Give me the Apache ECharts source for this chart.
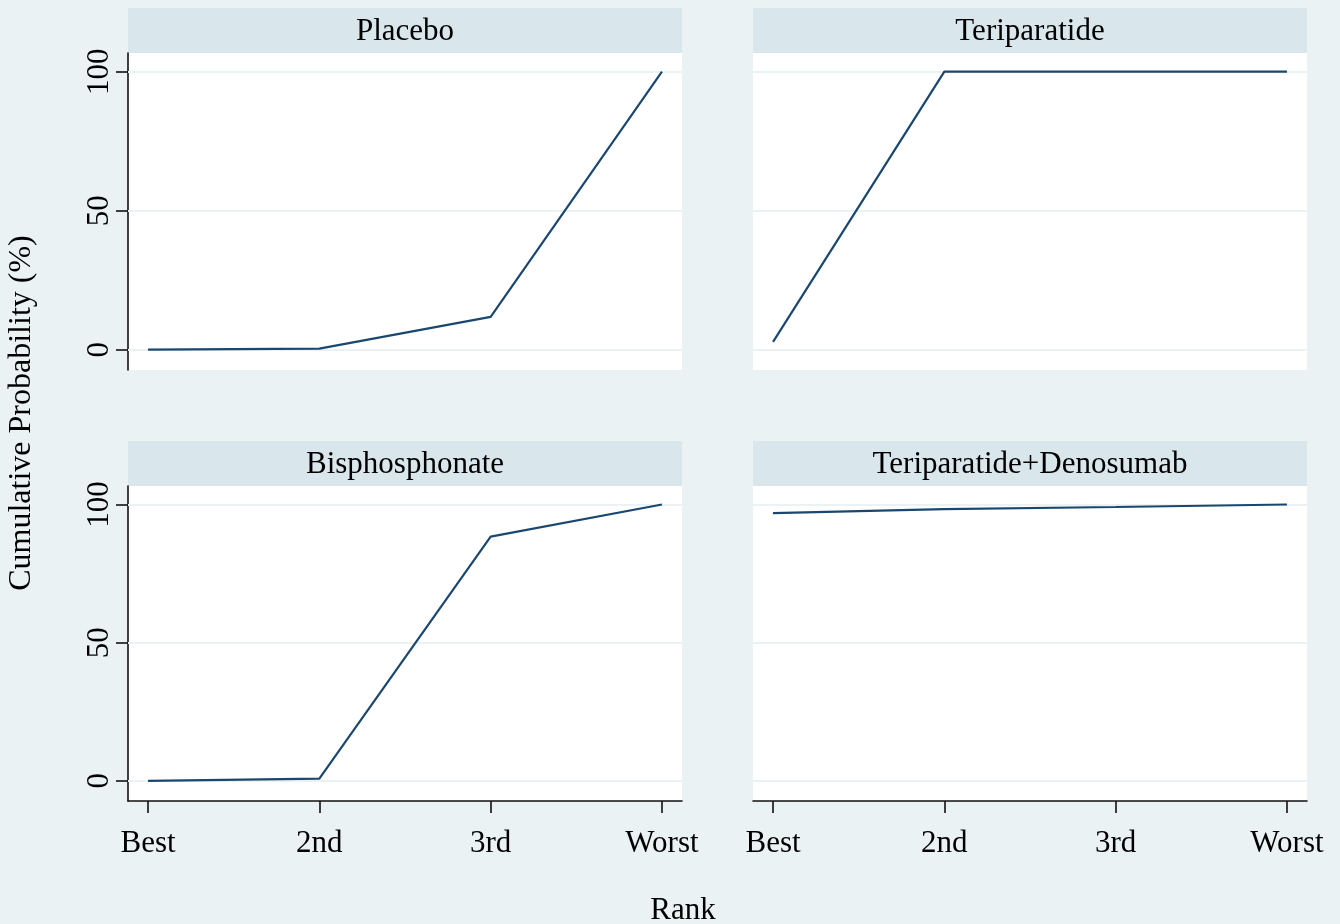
<!DOCTYPE html>
<html>
<head>
<meta charset="utf-8">
<script src="https://cdn.jsdelivr.net/npm/echarts@6/dist/echarts.min.js"></script>
<style>
  html, body { margin: 0; padding: 0; background: #eaf2f3; }
  #chart { width: 1340px; height: 924px; }
</style>
</head>
<body>
<div id="chart"></div>
<script>
// Rank categories along the x axis
const rankLabels = ['Best', '2nd', '3rd', 'Worst'];
const rankPositions = [1, 2, 3, 4];
// Y axis ticks (cumulative probability, %)
const yTicks = [0, 50, 100];
// Panel titles
const panelTitles = ['Placebo', 'Teriparatide', 'Bisphosphonate', 'Teriparatide+Denosumab'];
// Cumulative ranking probabilities per treatment
const placebo = [0, 0.4, 11.8, 100];
const teriparatide = [2.8, 100, 100, 100];
const bisphosphonate = [0, 0.8, 88.4, 100];
const teriDenosumab = [96.9, 98.3, 99.1, 100];

const seriesValues = [placebo, teriparatide, bisphosphonate, teriDenosumab];

const FONT = '"Liberation Serif", "Times New Roman", serif';
const FONT_SIZE = 31;
const LINE_COLOR = '#1a476f';
const GRID_COLOR = '#eaf2f3';
const HEADER_COLOR = '#d9e6eb';
const AXIS_COLOR = '#111111';
const PANEL_W = 554;
const HEADER_H = 45;
const panels = [
  { left: 128, top: 53, height: 317, showX: false, showY: true },
  { left: 753, top: 53, height: 317, showX: false, showY: false },
  { left: 128, top: 486, height: 315, showX: true, showY: true },
  { left: 753, top: 486, height: 315, showX: true, showY: false }
];

const grids = [], xAxes = [], yAxes = [], series = [], graphics = [];

panels.forEach((p, i) => {
  grids.push({
    left: p.left, top: p.top, width: PANEL_W, height: p.height,
    show: true, backgroundColor: '#ffffff', borderWidth: 0
  });
  xAxes.push({
    type: 'value', gridIndex: i, min: 0.883, max: 4.117,
    axisLine: { show: p.showX, onZero: false, lineStyle: { color: AXIS_COLOR, width: 1.6 } },
    axisTick: { show: p.showX, length: 12, customValues: rankPositions, lineStyle: { color: AXIS_COLOR, width: 1.6 } },
    axisLabel: {
      show: p.showX, customValues: rankPositions, margin: 27,
      formatter: v => rankLabels[rankPositions.indexOf(Math.round(v))] || '',
      fontFamily: FONT, fontSize: FONT_SIZE, color: '#000'
    },
    splitLine: { show: false }
  });
  yAxes.push({
    type: 'value', gridIndex: i, min: -7.3, max: 106.7,
    axisLine: { show: p.showY, onZero: false, lineStyle: { color: AXIS_COLOR, width: 1.6 } },
    axisTick: { show: p.showY, length: 12, customValues: yTicks, lineStyle: { color: AXIS_COLOR, width: 1.6 } },
    axisLabel: {
      show: p.showY, customValues: yTicks, rotate: 90, margin: 13,
      fontFamily: FONT, fontSize: FONT_SIZE, color: '#000'
    },
    splitLine: { show: false }
  });
  series.push({
    type: 'line', xAxisIndex: i, yAxisIndex: i,
    data: rankPositions.map((x, k) => [x, seriesValues[i][k]]),
    showSymbol: false, symbol: 'none',
    lineStyle: { color: LINE_COLOR, width: 2.2 },
    silent: true, z: 3,
    markLine: {
      silent: true, symbol: 'none', label: { show: false },
      lineStyle: { color: GRID_COLOR, width: 2, type: 'solid' },
      data: yTicks.map(v => ({ yAxis: v })),
      z: 1
    }
  });
  // Panel header strip with title
  graphics.push({
    type: 'group', left: p.left, top: p.top - HEADER_H,
    children: [
      { type: 'rect', shape: { x: 0, y: 0, width: PANEL_W, height: HEADER_H }, style: { fill: HEADER_COLOR } },
      {
        type: 'text', x: PANEL_W / 2, y: HEADER_H / 2 + 1,
        style: { text: panelTitles[i], font: FONT_SIZE + 'px ' + FONT, fill: '#000', align: 'center', verticalAlign: 'middle' }
      }
    ]
  });
});

// Shared axis titles
graphics.push({
  type: 'text', x: 22, y: 413, rotation: Math.PI / 2,
  style: { text: 'Cumulative Probability (%)', font: '32px ' + FONT, fill: '#000', align: 'center', verticalAlign: 'middle' }
});
graphics.push({
  type: 'text', x: 683, y: 911,
  style: { text: 'Rank', font: FONT_SIZE + 'px ' + FONT, fill: '#000', align: 'center', verticalAlign: 'middle' }
});

const chart = echarts.init(document.getElementById('chart'), null, { renderer: 'canvas' });
chart.setOption({
  backgroundColor: '#eaf2f3',
  animation: false,
  grid: grids,
  xAxis: xAxes,
  yAxis: yAxes,
  series: series,
  graphic: graphics
});
</script>
</body>
</html>
